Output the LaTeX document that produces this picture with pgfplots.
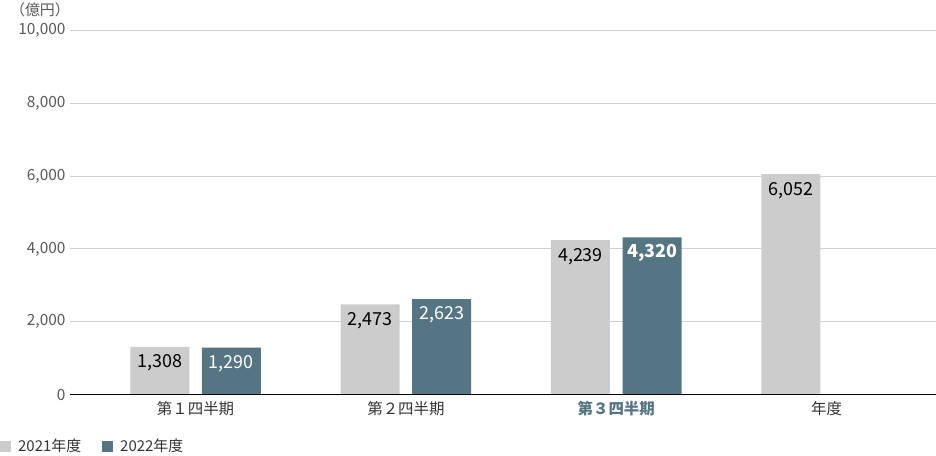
\documentclass[border=0pt]{standalone}
\usepackage{fontspec}
\setmainfont{Noto Sans CJK JP}
\usepackage{pgfplots}
\pgfplotsset{compat=1.18}

\definecolor{bar21}{HTML}{CCCCCC}
\definecolor{bar22}{HTML}{557582}
\definecolor{gridgray}{HTML}{CFCFCF}
\definecolor{tickgray}{HTML}{595959}
\definecolor{labeldark}{HTML}{333333}

\begin{document}
\begin{tikzpicture}
\begin{axis}[
    name=ax,
    scale only axis,
    width=866bp, height=364bp,
    xmin=-0.597, xmax=3.52,
    ymin=0, ymax=10000,
    ytick={0,2000,4000,6000,8000,10000},
    yticklabel style={/pgf/number format/1000 sep={,}, /pgf/number format/assume math mode=true,
        font=\fontsize{15.5}{17}\selectfont, text=tickgray, xshift=-1bp},
    scaled y ticks=false,
    xtick={0,1,2,3},
    xticklabels={第１四半期, 第２四半期, {\bfseries\color{bar22}第３四半期}, 年度},
    xticklabel style={font=\fontsize{15.5}{17}\selectfont, text=labeldark, yshift=-3bp},
    axis line style={draw=none},
    major tick length=0pt,
    ymajorgrids,
    grid style={draw=gridgray, line width=1bp},
    ybar, bar width=59bp,
    clip=false,
    point meta=explicit symbolic,
    nodes near coords={\pgfplotspointmeta},
    nodes near coords style={anchor=center, yshift=-16bp, font=\fontsize{18}{20}\selectfont},
    legend columns=2,
    legend style={at={(rel axis cs:0,0)}, anchor=west, xshift=-70bp, yshift=-51.5bp,
        draw=none, fill=none, inner sep=0pt,
        font=\fontsize{15}{17}\selectfont, text=labeldark,
        /tikz/every odd column/.append style={column sep=5bp},
        /tikz/every even column/.append style={column sep=19bp}},
]
\addplot[fill=bar21, draw=none, bar shift=-35.8bp, text=black,
    legend image code/.code={\fill[bar21] (0bp,-5.5bp) rectangle (11bp,5.5bp);}]
    coordinates {(0,1308) [1,308] (1,2473) [2,473] (2,4239) [4,239] (3,6052) [6,052]};
\addplot[fill=bar22, draw=none, bar shift=35.8bp, text=white,
    legend image code/.code={\fill[bar22] (0bp,-5.5bp) rectangle (11bp,5.5bp);}]
    coordinates {(0,1290) [1,290] (1,2623) [2,623] (2,4320) [\bfseries 4,320]};
\legend{2021年度, 2022年度}
\draw[black, line width=1.3bp] (rel axis cs:0,0) -- (rel axis cs:1,0);
\node[font=\fontsize{15}{17}\selectfont, text=tickgray] at ([xshift=-30bp, yshift=21bp]rel axis cs:0,1) {（億円）};
\end{axis}
\pgfresetboundingbox
\path[use as bounding box] ([xshift=-70bp, yshift=-61.5bp]ax.south west) rectangle ([yshift=30.5bp]ax.north east);
\end{tikzpicture}
\end{document}
